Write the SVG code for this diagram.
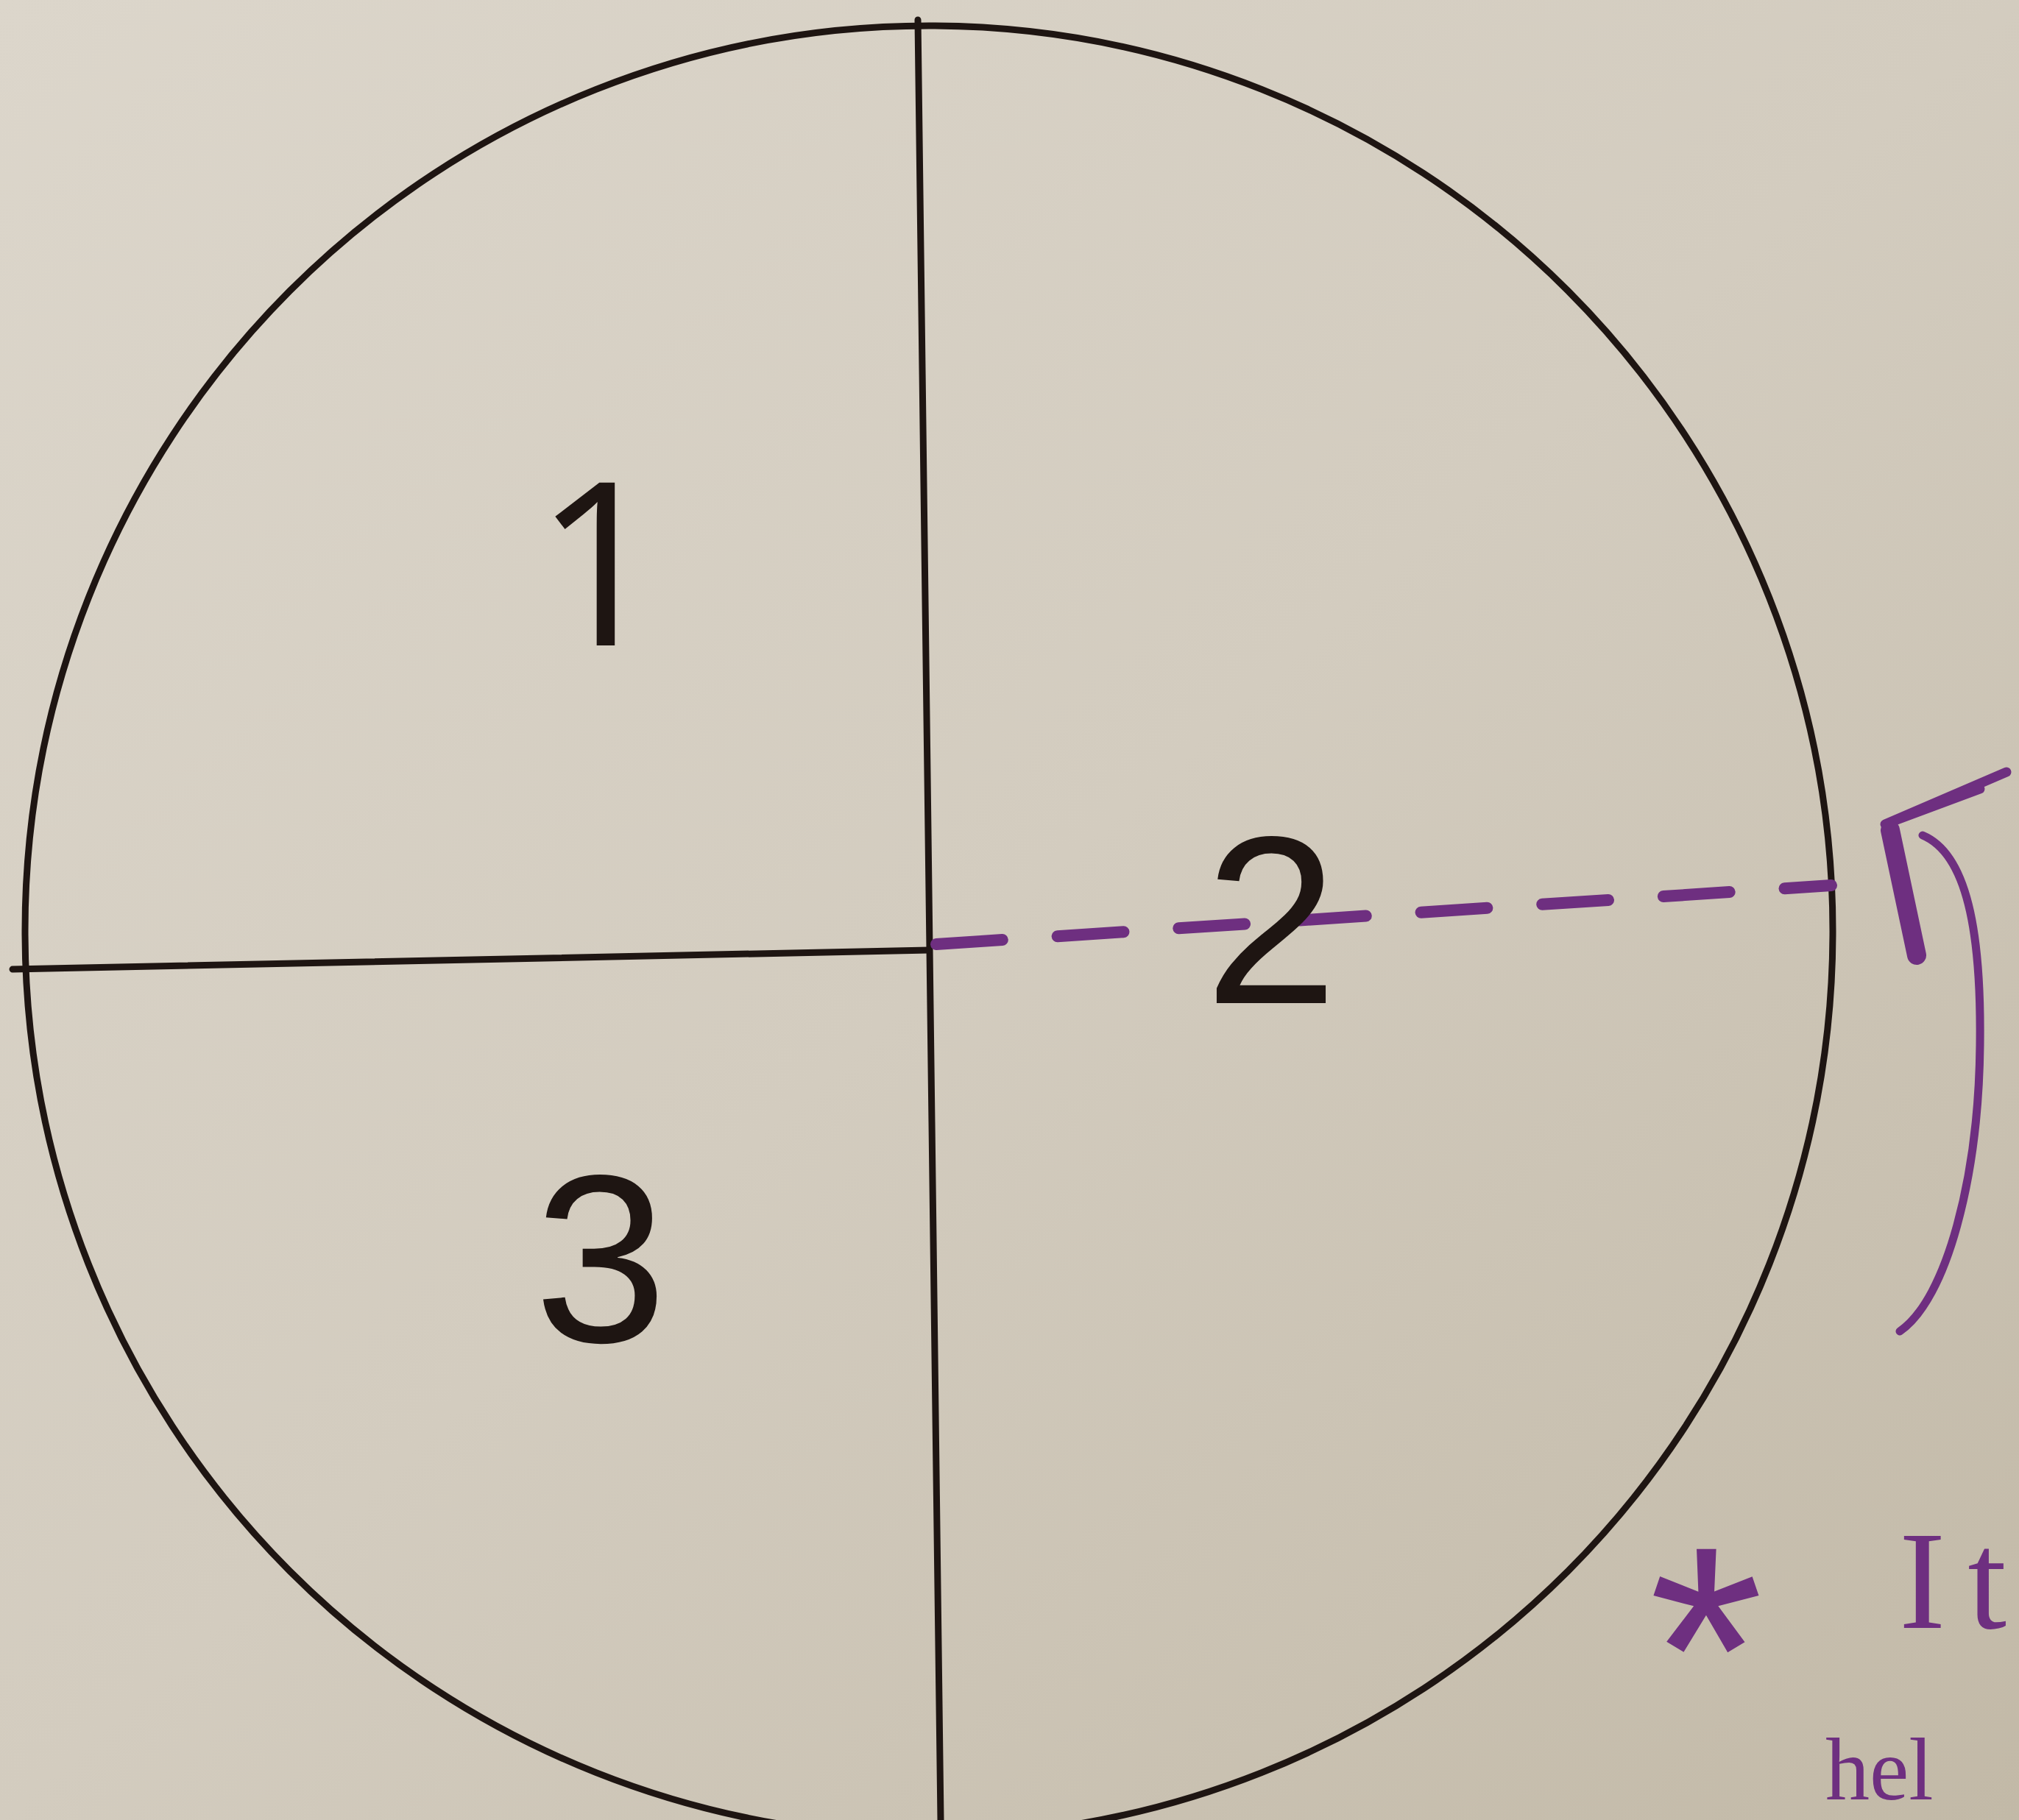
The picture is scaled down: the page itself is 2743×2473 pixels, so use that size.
<svg xmlns="http://www.w3.org/2000/svg" width="2743" height="2473" viewBox="0 0 2743 2473">
  <defs>
    <linearGradient id="paper" x1="0" y1="0" x2="1" y2="1">
      <stop offset="0" stop-color="#dcd6cb"/>
      <stop offset="0.5" stop-color="#d3ccbf"/>
      <stop offset="1" stop-color="#c2b9a7"/>
    </linearGradient>
  </defs>
  <style>
    .ink { fill: none; stroke: #1e1512; stroke-width: 9; stroke-linecap: round; }
    .pen { fill: none; stroke: #6e2f80; stroke-linecap: round; stroke-linejoin: round; }
    .num { font-family: "Liberation Sans", Arial, sans-serif; font-size: 325px; fill: #1e1512; text-anchor: middle; }
    .one { font-family: "Open Sans", "Liberation Sans", sans-serif; font-size: 310px; fill: #1e1512; text-anchor: middle; }
    .note { font-family: "Liberation Serif", "Times New Roman", serif; fill: #6e2f80; }
    .star { font-family: "Liberation Sans", Arial, sans-serif; fill: #6e2f80; }
  </style>
  <rect x="0" y="0" width="2743" height="2473" fill="url(#paper)"/>

  <g id="circle">
    <ellipse class="ink" cx="1262" cy="1265" rx="1228" ry="1230"/>
  </g>

  <g id="connectors">
    <line id="vertical-line" class="ink" x1="1247" y1="27" x2="1278" y2="2473"/>
    <line id="horizontal-line" class="ink" x1="17" y1="1317" x2="1262" y2="1291"/>
    <line id="dashed-radius" class="pen" x1="1272" y1="1283" x2="2488" y2="1203" stroke-width="16" stroke-dasharray="90 75"/>
    <g id="rotation-arrow">
      <path class="pen" stroke-width="11" d="M2581,1809 C2645,1765 2688,1600 2690,1420 C2692,1265 2672,1160 2612,1135"/>
      <path class="pen" stroke-width="13" d="M2726,1049 L2561,1120 L2690,1072"/>
      <path class="pen" stroke-width="26" d="M2568,1128 L2604,1298"/>
    </g>
  </g>

  <g id="label-1">
    <text class="one" x="815" y="877">1</text>
  </g>
  <g id="label-2">
    <text class="num" x="1727" y="1363">2</text>
  </g>
  <g id="label-3">
    <text class="num" x="816" y="1823" font-size="345">3</text>
  </g>

  <g id="note">
    <text class="star" x="2240" y="2380" font-size="400">*</text>
    <text class="note" x="2580" y="2212" font-size="190">I<tspan dx="30">t</tspan></text>
    <text class="note" x="2480" y="2445" font-size="120">hel</text>
  </g>
</svg>
